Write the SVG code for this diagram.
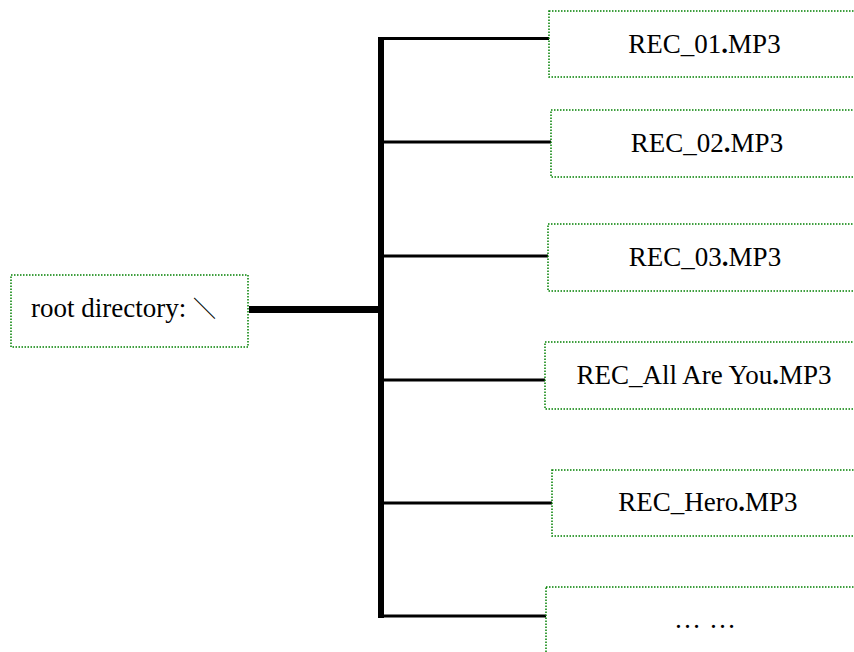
<svg xmlns="http://www.w3.org/2000/svg" width="854" height="652" viewBox="0 0 854 652">
<style>
.box{fill:#fff;stroke:#008000;stroke-width:1.5;stroke-dasharray:1.5 1.5}
.t{font-family:"Liberation Serif","Times New Roman","Noto Sans CJK SC",serif;font-size:27px;fill:#000}
.c{text-anchor:middle}
.br{stroke:#000;stroke-width:3;fill:none}
.b{font-weight:bold}
</style>
<rect width="854" height="652" fill="#fff"/>
<g id="connectors">
<line x1="249" y1="309.5" x2="381" y2="309.5" stroke="#000" stroke-width="7"/>
<line x1="381" y1="37" x2="381" y2="618" stroke="#000" stroke-width="6"/>
<line class="br" x1="378" y1="38.5" x2="549" y2="38.5"/>
<line class="br" x1="378" y1="142" x2="551" y2="142"/>
<line class="br" x1="378" y1="256" x2="548" y2="256"/>
<line class="br" x1="378" y1="380" x2="545" y2="380"/>
<line class="br" x1="378" y1="503" x2="552" y2="503"/>
<line class="br" x1="378" y1="616" x2="546" y2="616"/>
</g>
<g id="root">
<rect class="box" x="11" y="275" width="237" height="72"/>
<text class="t" x="31" y="317">root directory: <tspan font-family="'Noto Sans CJK SC',sans-serif" font-size="23">＼</tspan></text>
</g>
<g id="rec01">
<rect class="box" x="549" y="11" width="320" height="66"/>
<text class="t c" x="704.5" y="53">REC_01<tspan class="b">.</tspan>MP3</text>
</g>
<g id="rec02">
<rect class="box" x="551" y="110" width="320" height="67"/>
<text class="t c" x="707" y="152">REC_02<tspan class="b">.</tspan>MP3</text>
</g>
<g id="rec03">
<rect class="box" x="548" y="224" width="320" height="67"/>
<text class="t c" x="705" y="266">REC_03<tspan class="b">.</tspan>MP3</text>
</g>
<g id="recall">
<rect class="box" x="545" y="342" width="320" height="67"/>
<text class="t c" x="704" y="384">REC_All Are You<tspan class="b">.</tspan>MP3</text>
</g>
<g id="rechero">
<rect class="box" x="552" y="470" width="320" height="66"/>
<text class="t c" x="708" y="511">REC_Hero<tspan class="b">.</tspan>MP3</text>
</g>
<g id="more">
<rect class="box" x="546" y="587" width="320" height="80"/>
<text class="t c" x="705" y="628" font-size="21">…<tspan dx="8">…</tspan></text>
</g>
</svg>
